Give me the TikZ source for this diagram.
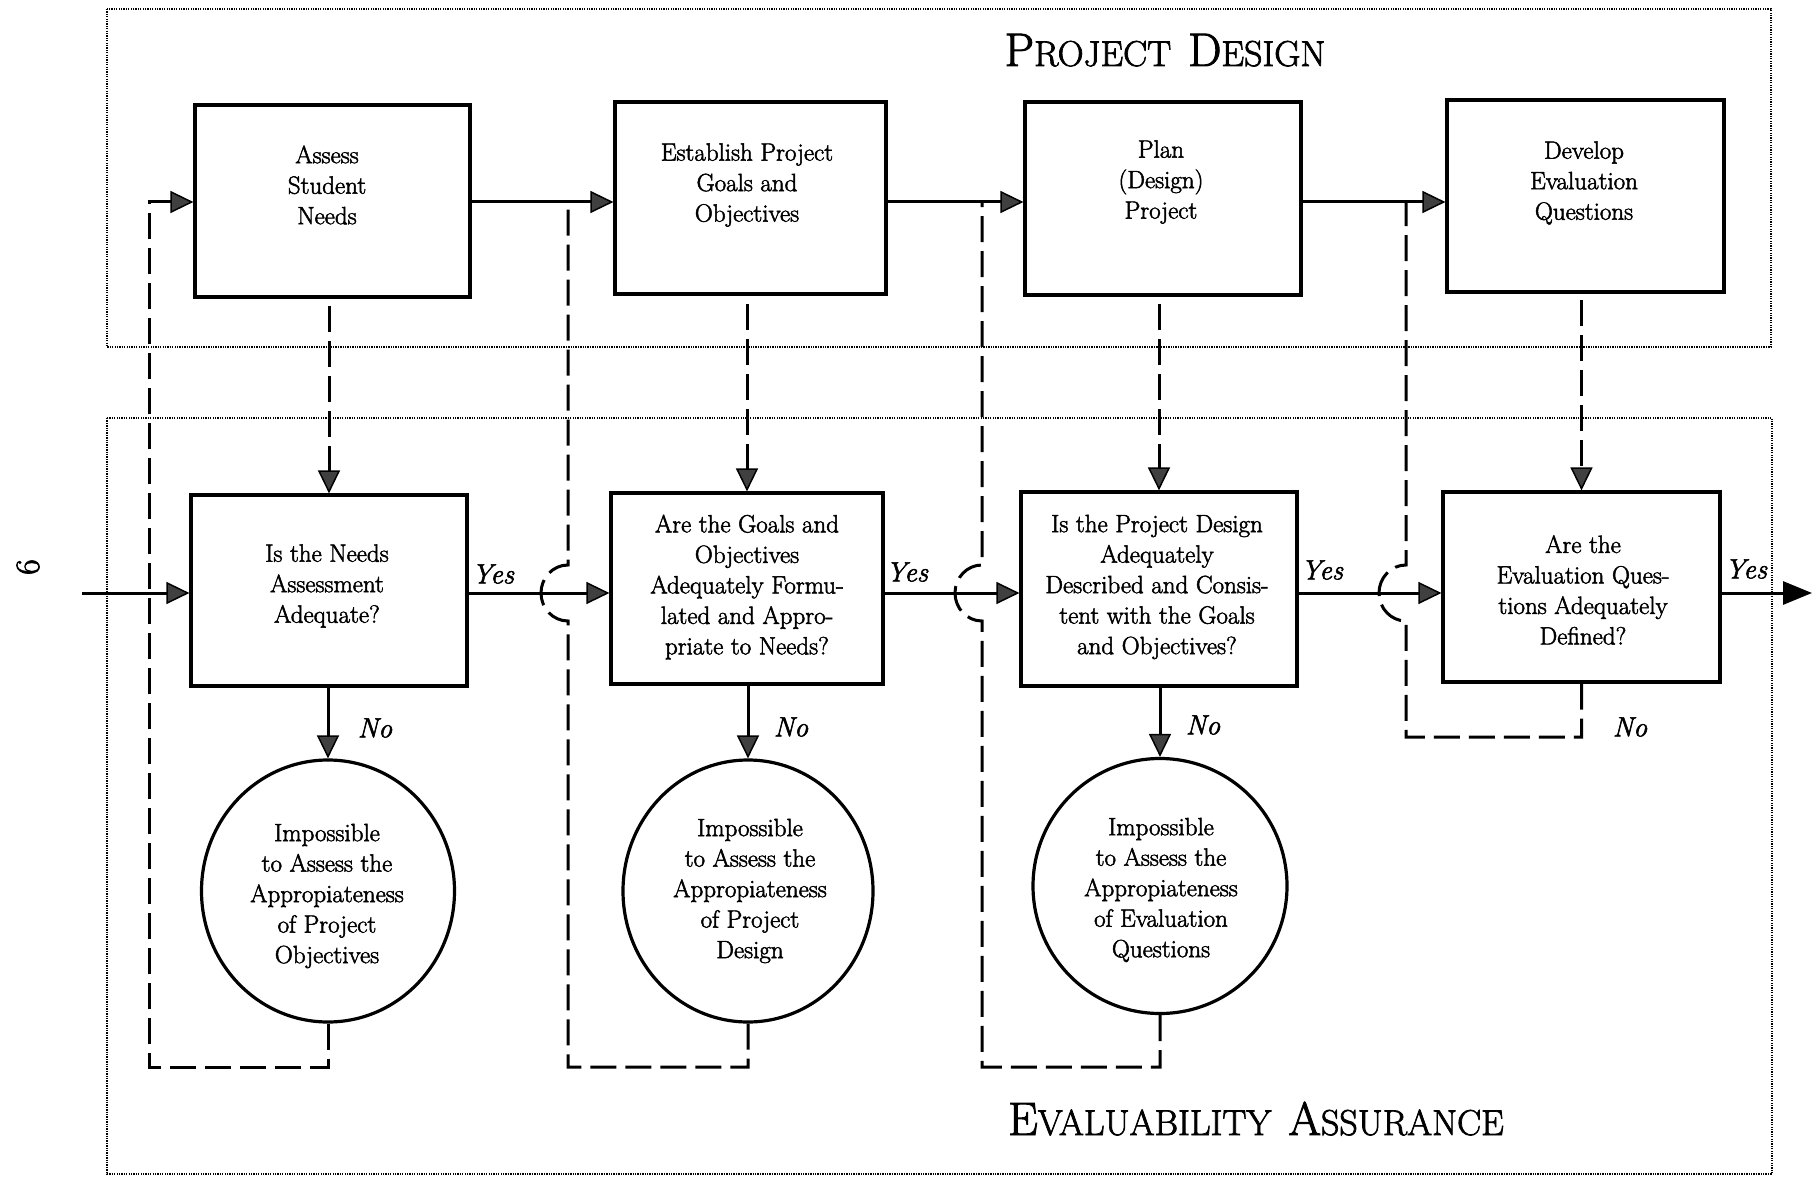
\documentclass[tikz,border=0pt]{standalone}
\usepackage{fontspec}
\setmainfont{Latin Modern Roman}[FakeBold=2]
\usetikzlibrary{arrows.meta,shapes.geometric}
\newcommand\fakesc[2]{{\fontsize{47}{47}\selectfont #1}{\fontsize{36}{36}\selectfont #2}}
\tikzset{
  qbox/.style={draw, line width=3.2pt, inner sep=0pt},
  circ/.style={draw, ellipse, line width=3.2pt, inner sep=0pt},
  txt/.style={align=center, font=\fontsize{25}{30.5}\selectfont, inner sep=0pt},
  lab/.style={font=\fontsize{28}{30}\selectfont\itshape, inner sep=0pt},
  title/.style={inner sep=0pt, anchor=base},
  tip/.style={-{Triangle[length=23pt,width=22pt,fill=black!75,line width=1.5pt]}},
  flow/.style={line width=3pt, tip},
  fb/.style={line width=3pt, dash pattern=on 26pt off 9pt},
  frame/.style={line width=2.4pt, dash pattern=on 1.3pt off 1.1pt},
}
\begin{document}
\begin{tikzpicture}[x=1pt,y=-1pt]
\useasboundingbox (0,0) rectangle (1817,1177);

% frames
\draw[frame] (107,9) rectangle (1771,347);
\draw[frame] (107,418) rectangle (1772,1174);

% titles
\node[title] (tpd) at (1165,66) {\fakesc{P}{ROJECT}\hspace{17pt}\fakesc{D}{ESIGN}};
\node[title] (tea) at (1256,1135) {\fakesc{E}{VALUABILITY}\hspace{17pt}\fakesc{A}{SSURANCE}};

% page number
\node[rotate=90, font=\fontsize{34}{34}\selectfont, inner sep=0pt] (pg) at (28,567) {6};

% top boxes
\node[qbox, minimum width=275pt, minimum height=192pt] (P1) at (332.5,201) {};
\node[qbox, minimum width=271pt, minimum height=192pt] (P2) at (750.5,198) {};
\node[qbox, minimum width=276pt, minimum height=193pt] (P3) at (1163,198.5) {};
\node[qbox, minimum width=277pt, minimum height=192pt] (P4) at (1585.5,196) {};
\node[txt] (tp1) at (327,185) {Assess\\Student\\Needs};
\node[txt] (tp2) at (747,185) {Establish Project\\Goals and\\Objectives};
\node[txt] (tp3) at (1161,182) {Plan\\(Design)\\Project};
\node[txt] (tp4) at (1584,183) {Develop\\Evaluation\\Questions};

% bottom boxes
\node[qbox, minimum width=276pt, minimum height=191pt] (B1) at (329,590.5) {};
\node[qbox, minimum width=272pt, minimum height=191pt] (B2) at (747,588.5) {};
\node[qbox, minimum width=276pt, minimum height=194pt] (B3) at (1159,589) {};
\node[qbox, minimum width=277pt, minimum height=190pt] (B4) at (1581.5,587) {};
\node[txt] (tb1) at (327,586) {Is the Needs\\Assessment\\Adequate?};
\node[txt] (tb2) at (747,587) {Are the Goals and\\Objectives\\Adequately Formu-\\lated and Appro-\\priate to Needs?};
\node[txt] (tb3) at (1157,587) {Is the Project Design\\Adequately\\Described and Consis-\\tent with the Goals\\and Objectives?};
\node[txt] (tb4) at (1583,590) {Are the\\Evaluation Ques-\\tions Adequately\\Defined?};

% circles
\node[circ, minimum width=253pt, minimum height=262pt] (C1) at (328,891) {};
\node[circ, minimum width=250pt, minimum height=262pt] (C2) at (748,891) {};
\node[circ, minimum width=254pt, minimum height=255pt] (C3) at (1160,886) {};
\node[txt] (tc1) at (327,896) {Impossible\\to Assess the\\Appropiateness\\of Project\\Objectives};
\node[txt] (tc2) at (750,891) {Impossible\\to Assess the\\Appropiateness\\of Project\\Design};
\node[txt] (tc3) at (1161,890) {Impossible\\to Assess the\\Appropiateness\\of Evaluation\\Questions};

% labels
\node[lab] (y1) at (493,574) {Yes};
\node[lab] (y2) at (907,572) {Yes};
\node[lab] (y3) at (1322,570) {Yes};
\node[lab] (y4) at (1746,569) {Yes};
\node[lab] (n1) at (375,728) {No};
\node[lab] (n2) at (791,727) {No};
\node[lab] (n3) at (1203,725) {No};
\node[lab] (n4) at (1630,727) {No};

% top flow
\draw[flow] (P1.east |- 0,202) -- (P2.west |- 0,202);
\draw[flow] (P2.east |- 0,202) -- (P3.west |- 0,202);
\draw[flow] (P3.east |- 0,202) -- (P4.west |- 0,202);

% main flow
\coordinate (start) at (82,593);
\coordinate (out) at (1812,593);
\draw[flow] (start) -- (B1.west |- start);
\draw[flow] (B1.east |- start) -- (B2.west |- start);
\draw[flow] (B2.east |- start) -- (B3.west |- start);
\draw[flow] (B3.east |- start) -- (B4.west |- start);
\draw[line width=3pt, -{Triangle[length=29pt,width=23pt]}] (B4.east |- start) -- (out);

% No arrows
\draw[flow] (B1.south -| C1.north) -- (C1.north);
\draw[flow] (B2.south -| C2.north) -- (C2.north);
\draw[flow] (B3.south -| C3.north) -- (C3.north);

% dashed connectors top -> bottom
\draw[fb, tip] (B1.north |- 0,306) -- (B1.north);
\draw[fb, tip] (B2.north |- 0,304) -- (B2.north);
\draw[fb, tip] (B3.north |- 0,304) -- (B3.north);
\draw[fb, tip] (B4.north |- 0,300) -- (B4.north);

% feedback loops
\coordinate (j2) at (568,202);
\coordinate (j3) at (982,202);
\coordinate (j4) at (1406,202);
\draw[fb, tip] (C1.south) -- (C1.south |- 0,1067) -- (149,1067) -- (149,202) -- (P1.west |- 0,202);
\draw[fb] (C2.south) -- (C2.south |- 0,1067) -- (568,1067) -- (568,621)
  to[out=180,in=-90] (541,593) to[out=90,in=180] (568,565) -- (j2);
\draw[fb] (C3.south) -- (C3.south |- 0,1067) -- (982,1067) -- (982,621)
  to[out=180,in=-90] (955,593) to[out=90,in=180] (982,565) -- (j3);
\draw[fb] (B4.south) -- (B4.south |- 0,737) -- (1406,737) -- (1406,621)
  to[out=180,in=-90] (1379,593) to[out=90,in=180] (1406,565) -- (j4);
\end{tikzpicture}
\end{document}
